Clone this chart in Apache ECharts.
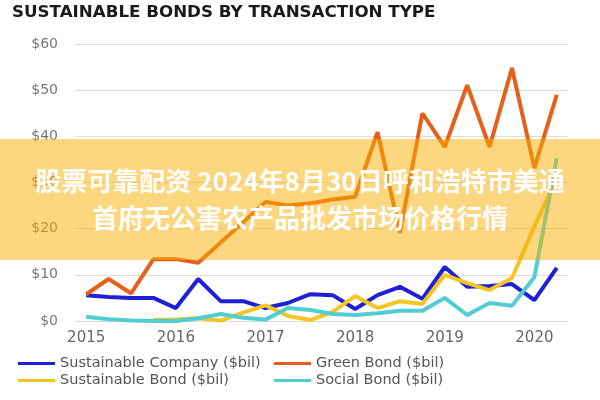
<!DOCTYPE html>
<html>
<head>
<meta charset="utf-8">
<script src="https://cdn.jsdelivr.net/npm/echarts@6/dist/echarts.min.js"></script>
<style>
html,body{margin:0;padding:0;background:#fff;}
#main{width:600px;height:400px;}
</style>
</head>
<body>
<div id="main"></div>
<script>
// ---- data ----
var categories = ["2015Q1","2015Q2","2015Q3","2015Q4","2016Q1","2016Q2","2016Q3","2016Q4",
                  "2017Q1","2017Q2","2017Q3","2017Q4","2018Q1","2018Q2","2018Q3","2018Q4",
                  "2019Q1","2019Q2","2019Q3","2019Q4","2020Q1","2020Q2"];
var sustainableCompany = [5.6, 5.2, 5.0, 5.0, 2.8, 9.1, 4.3, 4.3, 2.8, 3.9, 5.8, 5.6, 2.6, 5.6, 7.4, 4.8, 11.7, 7.4, 7.6, 8.0, 4.5, 11.5];
var greenBond = [5.8, 9.1, 6.0, 13.4, 13.4, 12.6, 17.0, 21.4, 25.8, 25.0, 25.5, 26.3, 26.9, 40.9, 19.1, 45.0, 37.7, 51.1, 37.7, 54.8, 33.1, 49.0];
var sustainableBond = [null, null, null, 0.2, 0.3, 0.6, 0.1, 1.8, 3.4, 1.1, 0.2, 2.0, 5.4, 2.8, 4.3, 3.7, 10.0, 8.2, 6.7, 9.3, 20.5, 31.0];
var socialBond = [0.9, 0.4, 0.1, 0.0, 0.0, 0.6, 1.5, 0.7, 0.3, 2.8, 2.4, 1.5, 1.3, 1.7, 2.2, 2.2, 5.0, 1.3, 3.9, 3.3, 9.5, 35.3];
var seriesNames = ["Sustainable Company ($bil)", "Green Bond ($bil)", "Sustainable Bond ($bil)", "Social Bond ($bil)"];
var yTicks = [0, 10, 20, 30, 40, 50, 60];
var titleText = "SUSTAINABLE BONDS BY TRANSACTION TYPE";
var bannerLine1 = "股票可靠配资 2024年8月30日呼和浩特市美通";
var bannerLine2 = "首府无公害农产品批发市场价格行情";

var colors = ["#1f1fd6", "#e5601a", "#f5c524", "#52cdd3"];
var font = "DejaVu Sans";

var chart = echarts.init(document.getElementById('main'), null, {renderer: 'canvas'});

function legendAt(name, left, top) {
  return {
    data: [name], left: left, top: top, orient: 'horizontal',
    icon: 'rect', itemWidth: 37, itemHeight: 3, padding: 0,
    textStyle: {fontFamily: font, fontSize: 14.5, color: '#555'},
    selectedMode: false
  };
}

var option = {
  animation: false,
  backgroundColor: '#fff',
  title: {
    text: titleText, left: 12, top: 4, padding: 0,
    textStyle: {fontFamily: font, fontWeight: 'bold', fontSize: 16.7, color: '#1a1a1a'}
  },
  legend: [
    legendAt(seriesNames[0], 18, 356),
    legendAt(seriesNames[1], 274, 356),
    legendAt(seriesNames[2], 18, 373),
    legendAt(seriesNames[3], 274, 373)
  ],
  grid: {left: 75, right: 32, top: 44, bottom: 79, containLabel: false},
  xAxis: {
    type: 'category', data: categories, boundaryGap: true,
    axisLine: {show: false}, axisTick: {show: false},
    axisLabel: {
      interval: function (i) { return i % 4 === 0; },
      formatter: function (v) { return v.slice(0, 4); },
      fontFamily: font, fontSize: 15, color: '#666', margin: 10
    },
    splitLine: {show: false}
  },
  yAxis: {
    type: 'value', min: yTicks[0], max: yTicks[yTicks.length - 1], interval: 10,
    axisLine: {show: false}, axisTick: {show: false},
    axisLabel: {
      formatter: function (v) { return '$' + v; },
      fontFamily: font, fontSize: 14, color: '#777', margin: 17
    },
    splitLine: {lineStyle: {color: '#dcdcdc', width: 1}}
  },
  series: [
    {name: seriesNames[0], type: 'line', data: sustainableCompany, showSymbol: false, color: colors[0], lineStyle: {width: 4}},
    {name: seriesNames[1], type: 'line', data: greenBond, showSymbol: false, color: colors[1], lineStyle: {width: 4}},
    {name: seriesNames[2], type: 'line', data: sustainableBond, showSymbol: false, color: colors[2], lineStyle: {width: 4}},
    {name: seriesNames[3], type: 'line', data: socialBond, showSymbol: false, color: colors[3], lineStyle: {width: 4}}
  ],
  graphic: [
    {type: 'rect', left: 0, top: 139, z: 100, shape: {width: 600, height: 121},
     style: {fill: 'rgba(251,175,0,0.5)'}},
    {type: 'text', left: 'center', top: 168, z: 101,
     style: {text: bannerLine1, fill: '#fff', font: 'bold 26px "Noto Sans CJK SC"'}},
    {type: 'text', left: 'center', top: 205, z: 101,
     style: {text: bannerLine2, fill: '#fff', font: 'bold 26px "Noto Sans CJK SC"'}}
  ]
};
chart.setOption(option);
</script>
</body>
</html>
